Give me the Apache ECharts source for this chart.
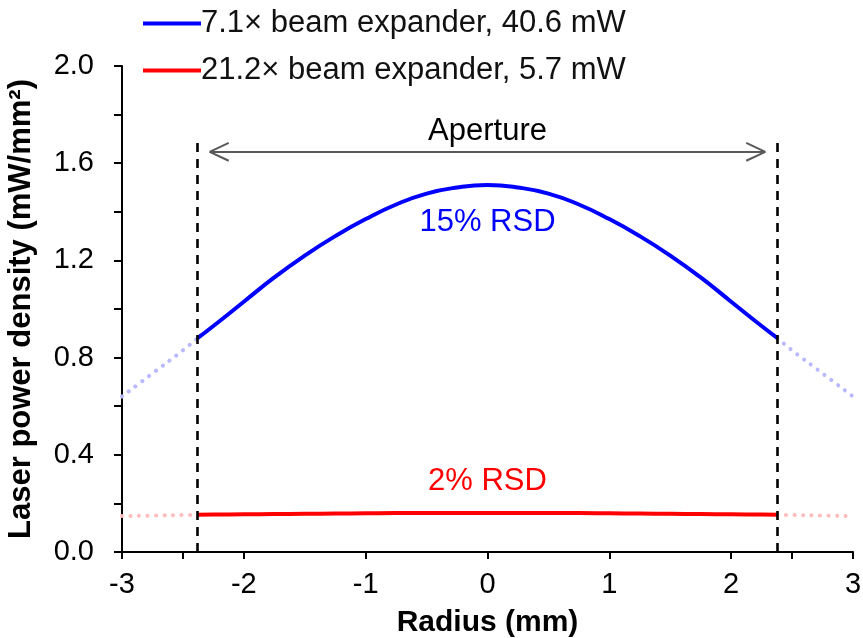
<!DOCTYPE html>
<html>
<head>
<meta charset="utf-8">
<script src="https://cdn.jsdelivr.net/npm/echarts@6/dist/echarts.min.js"></script>
<style>html,body{margin:0;padding:0;background:#fff}#c{width:863px;height:638px}</style>
</head>
<body>
<div id="c"></div>
<script>
// ---- data ----
const radius = [-3, -2.75, -2.5, -2.38, -2.25, -2, -1.75, -1.5, -1.25, -1, -0.75, -0.5, -0.25, 0,
                0.25, 0.5, 0.75, 1, 1.25, 1.5, 1.75, 2, 2.25, 2.38, 2.5, 2.75, 3];
const blueDensity = [0.64, 0.735, 0.83, 0.88, 0.93, 1.03, 1.13, 1.22, 1.30, 1.37, 1.43, 1.475, 1.50, 1.51,
                     1.50, 1.475, 1.43, 1.37, 1.30, 1.22, 1.13, 1.03, 0.93, 0.88, 0.83, 0.735, 0.64];
const redDensity = [0.148, 0.150, 0.152, 0.153, 0.154, 0.155, 0.156, 0.157, 0.158, 0.159, 0.160, 0.160, 0.161, 0.161,
                    0.161, 0.160, 0.160, 0.159, 0.158, 0.157, 0.156, 0.155, 0.154, 0.153, 0.152, 0.150, 0.148];
const seriesNames = ['7.1× beam expander, 40.6 mW', '21.2× beam expander, 5.7 mW'];
const aperture = 2.38;          // half-width of aperture (mm)
const apertureLineTop = 1.709;  // top of dashed aperture lines
const arrowY = 1.647, arrowTip = 2.28, headDx = 0.156, headDy = 0.037;
const xTickLabels = [-3, -2, -1, 0, 1, 2, 3];
const xTicks = [-3, -2.5, -2, -1, 0, 1, 2, 2.5, 3];
const yTickLabels = [0, 0.4, 0.8, 1.2, 1.6, 2.0];
const yTicks = [0, 0.2, 0.4, 0.6, 0.8, 1.0, 1.2, 1.4, 1.6, 1.8, 2.0];
const annotations = [
  {text: 'Aperture', x: 0, y: 1.73, color: '#000000'},
  {text: '15% RSD', x: 0, y: 1.355, color: '#0000ff'},
  {text: '2% RSD', x: 0, y: 0.292, color: '#ff0000'}
];

const FONT = '"Liberation Sans", Arial, sans-serif';
const pairs = (vals) => radius.map((r, i) => [r, vals[i]]);
const inside = (vals) => pairs(vals).filter(p => Math.abs(p[0]) <= aperture + 1e-9);
const leftOut = (vals) => pairs(vals).filter(p => p[0] <= -aperture + 1e-9);
const rightOut = (vals) => pairs(vals).filter(p => p[0] >= aperture - 1e-9);

const dotted = (name, data, color) => ({
  name, type: 'line', data, symbol: 'none', smooth: true, silent: true, z: 2,
  lineStyle: {color, width: 4, type: [0.1, 8.4], cap: 'round'}
});

const dashStyle = {color: '#000', width: 2.6, type: [9, 7]};
const arrowStyle = {color: '#595959', width: 2, type: 'solid'};

const option = {
  animation: false,
  textStyle: {fontFamily: FONT},
  grid: {left: 122, right: 10, top: 66, bottom: 86, containLabel: false, outerBoundsMode: 'none'},
  legend: {
    data: seriesNames.map(n => ({name: n, icon: 'rect'})), orient: 'vertical', left: 143, top: 6, padding: 0,
    itemWidth: 58, itemHeight: 4, itemGap: 12,
    textStyle: {fontFamily: FONT, fontSize: 31, color: '#111', lineHeight: 35, padding: [0, 0, 0, -5]}
  },
  xAxis: {
    type: 'value', min: -3, max: 3, interval: 1,
    name: 'Radius (mm)', nameLocation: 'middle', nameGap: 56,
    nameTextStyle: {fontFamily: FONT, fontSize: 30, fontWeight: 'bold', color: '#000'},
    axisLine: {lineStyle: {color: '#000', width: 2}},
    axisTick: {show: true, length: 7, inside: false, lineStyle: {color: '#000', width: 2}, customValues: xTicks},
    axisLabel: {fontFamily: FONT, fontSize: 29, color: '#000', margin: 18, customValues: xTickLabels,
                formatter: v => String(v)},
    splitLine: {show: false}
  },
  yAxis: {
    type: 'value', min: 0, max: 2.0, interval: 0.2,
    name: 'Laser power density (mW/mm²)', nameLocation: 'middle', nameGap: 85,
    nameTextStyle: {fontFamily: FONT, fontSize: 31, fontWeight: 'bold', color: '#000'},
    axisLine: {show: true, onZero: false, lineStyle: {color: '#000', width: 2}},
    axisTick: {show: true, length: 8, inside: false, lineStyle: {color: '#000', width: 2}, customValues: yTicks},
    axisLabel: {fontFamily: FONT, fontSize: 29, color: '#000', margin: 28, customValues: yTickLabels,
                formatter: v => v.toFixed(1)},
    splitLine: {show: false}
  },
  series: [
    dotted('blueOutL', leftOut(blueDensity), '#b9b9ff'),
    dotted('blueOutR', rightOut(blueDensity), '#b9b9ff'),
    dotted('redOutL', leftOut(redDensity), '#ffbcbc'),
    dotted('redOutR', rightOut(redDensity), '#ffbcbc'),
    {
      name: seriesNames[0], type: 'line', data: inside(blueDensity), symbol: 'none', smooth: true, z: 3,
      lineStyle: {color: '#0000ff', width: 4}, itemStyle: {color: '#0000ff'}
    },
    {
      name: seriesNames[1], type: 'line', data: inside(redDensity), symbol: 'none', smooth: true, z: 3,
      lineStyle: {color: '#ff0000', width: 4}, itemStyle: {color: '#ff0000'},
      markLine: {
        silent: true, symbol: ['none', 'none'], label: {show: false}, animation: false,
        emphasis: {disabled: true},
        data: [
          [{coord: [-aperture, 0], lineStyle: dashStyle}, {coord: [-aperture, apertureLineTop]}],
          [{coord: [aperture, 0], lineStyle: dashStyle}, {coord: [aperture, apertureLineTop]}],
          [{coord: [-arrowTip, arrowY], lineStyle: arrowStyle}, {coord: [arrowTip, arrowY]}],
          [{coord: [-arrowTip, arrowY], lineStyle: arrowStyle}, {coord: [-arrowTip + headDx, arrowY + headDy]}],
          [{coord: [-arrowTip, arrowY], lineStyle: arrowStyle}, {coord: [-arrowTip + headDx, arrowY - headDy]}],
          [{coord: [arrowTip, arrowY], lineStyle: arrowStyle}, {coord: [arrowTip - headDx, arrowY + headDy]}],
          [{coord: [arrowTip, arrowY], lineStyle: arrowStyle}, {coord: [arrowTip - headDx, arrowY - headDy]}]
        ]
      },
      markPoint: {
        silent: true, symbol: 'circle', symbolSize: 0,
        data: annotations.map(a => ({
          coord: [a.x, a.y],
          label: {show: true, position: 'inside', formatter: a.text, color: a.color,
                  fontFamily: FONT, fontSize: 31}
        }))
      }
    }
  ]
};
const chart = echarts.init(document.getElementById('c'), null, {renderer: 'canvas'});
chart.setOption(option);
</script>
</body>
</html>
